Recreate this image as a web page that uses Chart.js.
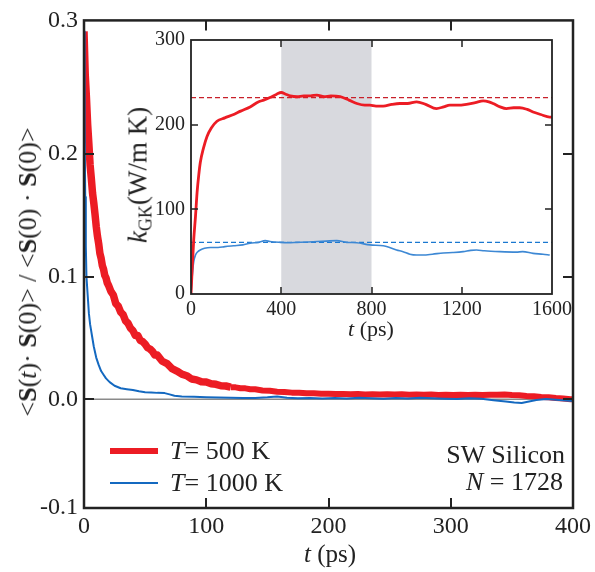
<!DOCTYPE html>
<html><head><meta charset="utf-8">
<script src="https://cdn.jsdelivr.net/npm/chart.js@4.4.1/dist/chart.umd.min.js"></script>
<style>
body{margin:0;background:#fff;}
#wrap{position:relative;width:595px;height:572px;overflow:hidden;font-family:"Liberation Serif","Times New Roman",serif;color:#222;background:#fff;}
canvas{position:absolute;}
.t{position:absolute;white-space:nowrap;line-height:1;}
.sw{position:absolute;}
</style></head><body>
<div id="wrap">
<canvas id="main" width="595" height="572" style="left:0;top:0"></canvas>
<canvas id="inset" width="460" height="330" style="left:120px;top:20px"></canvas>
<div class="t" style="left:28px;top:272px;transform:translate(-50%,-50%) rotate(-90deg);font-size:26px">&lt;<b>S</b>(<i>t</i>)· <b>S</b>(0)&gt; / &lt;<b>S</b>(0) · <b>S</b>(0)&gt;</div>
<div class="t" style="left:330px;top:553px;transform:translate(-50%,-50%);font-size:25px"><i>t</i> (ps)</div>
<div class="t" style="left:138px;top:175px;transform:translate(-50%,-50%) rotate(-90deg);font-size:27px"><i>k</i><span style="font-size:18px;position:relative;top:5px">GK</span>(W/m K)</div>
<div class="t" style="left:371px;top:329px;transform:translate(-50%,-50%);font-size:22px"><i>t</i> (ps)</div>
<div class="sw" style="left:110px;top:448px;width:48px;height:6px;background:#ec1c24"></div>
<div class="sw" style="left:110px;top:482px;width:48px;height:2px;background:#1469c0"></div>
<div class="t" style="left:170px;top:451px;transform:translateY(-50%);font-size:26px"><i>T</i>= 500 K</div>
<div class="t" style="left:170px;top:483px;transform:translateY(-50%);font-size:26px"><i>T</i>= 1000 K</div>
<div class="t" style="right:30px;top:455px;transform:translateY(-50%);font-size:26px">SW Silicon</div>
<div class="t" style="right:32px;top:482px;transform:translateY(-50%);font-size:26px"><i>N</i> = 1728</div>
</div>
<script>
// ---- main panel data: spin autocorrelation ----
const redT = [0,1,2,3,4,5,6,7,8,9,10,11,12,13,14,15,16,17,18,19,20,
  22,24,26,28,30,32,34,36,38,40,42,44,46,48,50,52,54,56,58,60,
  64,68,72,76,80,84,88,92,96,100,104,108,112,116,120,124,128,132,136,140,
  146,152,158,164,170,176,182,188,194,200,206,212,218,224,230,236,242,248,254,260,
  266,272,278,284,290,296,302,308,314,320,326,332,338,344,350,356,362,368,374,380,386,392,398,400];
const redS = [0.300,0.265,0.246,0.224,0.208,0.191,0.180,0.168,0.160,0.151,0.141,0.133,0.127,0.119,0.115,0.109,0.106,0.101,0.099,0.095,0.093,
  0.088,0.085,0.078,0.076,0.071,0.069,0.064,0.062,0.058,0.056,0.052,0.052,0.048,0.047,0.045,0.042,0.041,0.039,0.036,0.036,
  0.031,0.029,0.025,0.023,0.0205,0.0192,0.0165,0.0158,0.0142,0.0140,0.0126,0.0122,0.0110,0.0108,0.0098,0.0097,0.0090,0.0089,0.0082,0.0081,
  0.0072,0.0069,0.0062,0.0059,0.0054,0.0053,0.0048,0.0048,0.0044,0.0045,0.0042,0.0043,0.0040,0.0042,0.0039,0.0041,0.0039,0.0041,0.0038,0.0040,
  0.0037,0.0039,0.0036,0.0038,0.0035,0.0037,0.0034,0.0037,0.0034,0.0036,0.0034,0.0037,0.0036,0.0038,0.0034,0.0033,0.0027,0.0024,0.0018,0.0017,0.0010,0.0006,0.0000,0.0];
const blueT = [0,0.5,1,1.5,2,3,4,5,6.5,8,10,12,14,16,18,21,25,30,35,40,45,50,55,60,66,70,74,80,90,100,
  110,120,130,140,150,158,166,175,185,195,205,215,225,235,245,255,265,275,285,295,305,315,325,335,345,352,358,364,370,378,386,394,400];
const blueS = [0.300,0.225,0.165,0.125,0.100,0.085,0.070,0.061,0.052,0.043,0.034,0.028,0.023,0.020,0.017,0.014,0.011,0.009,0.0082,0.0075,
  0.0065,0.0058,0.0055,0.0052,0.0050,0.0040,0.0028,0.0022,0.0020,0.0016,0.0014,0.0012,0.0010,0.0011,0.0016,0.0022,0.0012,0.0008,0.0010,0.0006,
  0.0010,0.0007,0.0012,0.0008,0.0004,0.0010,0.0006,0.0012,0.0008,0.0005,0.0002,0.0008,0.0004,-0.0008,-0.0018,-0.0026,-0.0030,-0.0018,-0.0006,0.0002,
  -0.0004,-0.0010,-0.0014];
const xMainTicks = [0,100,200,300,400];
const xMainLabels = ['0','100','200','300','400'];
const yMainMin = -0.0887, yMainMax = 0.309;
const yMainTicks = [-0.0887,0,0.1,0.2,0.309];
const yMainLabels = ['-0.1','0.0','0.1','0.2','0.3'];

// ---- inset data: GK thermal conductivity ----
const kRedT = [0,5,12,20,27,35,41,55,71,90,115,150,189,220,262,300,322,350,380,400,420,440,470,500,530,558,590,620,661,700,
  735,770,793,820,852,890,926,960,1000,1040,1088,1120,1147,1180,1221,1260,1295,1320,1339,1370,1398,1430,1457,1490,1516,1550,1590,1600];
const kRed = [0,28,64,92,120,142,155,172,186,196,204,208,212,216,221,227,229,232,236,238,236,234,233,234,234,235,233,234,233,229,
  225,223,223,222,222,224,225,225,227,224,219,221,223,223,224,226,228,227,225,221,219,220,220,218,215,212,209,209];
const kBlueT = [0,5,12,20,30,41,60,86,120,150,189,230,262,300,329,350,395,430,470,520,558,600,646,690,735,793,852,880,911,940,
  970,1000,1029,1070,1118,1160,1206,1240,1265,1300,1369,1442,1470,1516,1560,1590];
const kBlue = [0,20,38,46,50,52,54,55,55,56,57,58,60,61,63,62,61,60.6,61,61.5,62,62.5,63,61,60.5,58,57,55,52,50,
  47,46,46,47,48.5,49,50,51.5,52,51,50,49.5,50,48,47,46];
const kRedRef = 232, kBlueRef = 61;
const bandRange = [400,800];
const xInsetTicks = [0,400,800,1200,1600];
const xInsetLabels = ['0','400','800','1200','1600'];
const yInsetTicks = [0,100,200,300];
const yInsetLabels = ['0','100','200','300'];

const FONT = '"Liberation Serif","Times New Roman",serif';
const toXY = (xs,ys) => xs.map((x,i)=>({x, y:ys[i]}));

function framePlugin(len, lw, tw){
  return {
    id:'frame',
    afterDatasetsDraw(chart){
      const {ctx, chartArea:a, scales:{x,y}} = chart;
      ctx.save();
      ctx.strokeStyle = '#222';
      ctx.lineWidth = tw;
      ctx.beginPath();
      x.ticks.forEach(t=>{
        if (t.value <= x.min || t.value >= x.max) return;
        const p = Math.round(x.getPixelForValue(t.value));
        ctx.moveTo(p,a.bottom); ctx.lineTo(p,a.bottom-len);
        ctx.moveTo(p,a.top); ctx.lineTo(p,a.top+len);
      });
      y.ticks.forEach(t=>{
        if (t.value <= y.min || t.value >= y.max) return;
        const p = Math.round(y.getPixelForValue(t.value));
        ctx.moveTo(a.left,p); ctx.lineTo(a.left+len,p);
        ctx.moveTo(a.right,p); ctx.lineTo(a.right-len,p);
      });
      ctx.stroke();
      ctx.lineWidth = lw;
      ctx.strokeRect(a.left, a.top, a.right-a.left, a.bottom-a.top);
      ctx.restore();
    }
  };
}

const bandPlugin = {
  id:'band',
  beforeDatasetsDraw(chart){
    const {ctx, chartArea:a, scales:{x}} = chart;
    const x0 = x.getPixelForValue(bandRange[0]), x1 = x.getPixelForValue(bandRange[1]);
    ctx.save();
    ctx.fillStyle = '#d8d9de';
    ctx.fillRect(x0, a.top, x1-x0, a.bottom-a.top);
    ctx.restore();
  }
};

new Chart(document.getElementById('main'), {
  type:'line',
  data:{datasets:[
    {data:toXY([0,400],[0,0]), borderColor:'#8a8a8a', borderWidth:1.5, order:3},
    {data:toXY(redT,redS), borderColor:'#ec1c24', borderWidth:7,
      segment:{borderWidth:c=> c.p0.parsed.x < 120 ? 7.5 : 6}, order:2},
    {data:toXY(blueT,blueS), borderColor:'#1469c0', borderWidth:2, order:1}
  ]},
  options:{
    responsive:false, animation:false, devicePixelRatio:1,
    layout:{padding:{top:15,right:19,left:0,bottom:0}},
    plugins:{legend:{display:false}, tooltip:{enabled:false}},
    elements:{point:{radius:0}, line:{tension:0, borderJoinStyle:'round'}},
    scales:{
      x:{type:'linear', min:0, max:400,
        afterBuildTicks:s=>{ s.ticks = xMainTicks.map(v=>({value:v})); },
        ticks:{font:{family:FONT,size:24}, color:'#222', padding:4, maxRotation:0, autoSkip:false,
          callback:(v,i)=>xMainLabels[i]},
        grid:{display:false, drawTicks:false}, border:{display:false},
        afterFit:s=>{ s.height = 64; }},
      y:{type:'linear', min:yMainMin, max:yMainMax,
        afterBuildTicks:s=>{ s.ticks = yMainTicks.map(v=>({value:v})); },
        ticks:{font:{family:FONT,size:24}, color:'#222', padding:6, autoSkip:false,
          callback:(v,i)=>yMainLabels[i]},
        grid:{display:false, drawTicks:false}, border:{display:false},
        afterFit:s=>{ s.width = 84; }}
    }
  },
  plugins:[framePlugin(10, 2.5, 2)]
});

new Chart(document.getElementById('inset'), {
  type:'line',
  data:{datasets:[
    {data:toXY([0,1600],[kRedRef,kRedRef]), borderColor:'#c8202a', borderWidth:1.3, borderDash:[5,3], order:4},
    {data:toXY([0,1600],[kBlueRef,kBlueRef]), borderColor:'#1a78d0', borderWidth:1.3, borderDash:[5,3], order:3},
    {data:toXY(kRedT,kRed), borderColor:'#ec1c24', borderWidth:2.8, order:1},
    {data:toXY(kBlueT,kBlue), borderColor:'#3d88d4', borderWidth:1.6, order:2}
  ]},
  options:{
    responsive:false, animation:false, devicePixelRatio:1,
    layout:{padding:{top:20,right:28,left:0,bottom:0}},
    plugins:{legend:{display:false}, tooltip:{enabled:false}},
    elements:{point:{radius:0}, line:{tension:0.3, cubicInterpolationMode:'monotone'}},
    scales:{
      x:{type:'linear', min:0, max:1600,
        afterBuildTicks:s=>{ s.ticks = xInsetTicks.map(v=>({value:v})); },
        ticks:{font:{family:FONT,size:20}, color:'#222', padding:4, maxRotation:0, autoSkip:false,
          callback:(v,i)=>xInsetLabels[i]},
        grid:{display:false, drawTicks:false}, border:{display:false},
        afterFit:s=>{ s.height = 56; }},
      y:{type:'linear', min:0, max:300,
        afterBuildTicks:s=>{ s.ticks = yInsetTicks.map(v=>({value:v})); },
        ticks:{font:{family:FONT,size:20}, color:'#222', padding:6, autoSkip:false,
          callback:(v,i)=>yInsetLabels[i]},
        grid:{display:false, drawTicks:false}, border:{display:false},
        afterFit:s=>{ s.width = 71; }}
    }
  },
  plugins:[bandPlugin, framePlugin(7, 1.8, 1.5)]
});
</script>
</body></html>
